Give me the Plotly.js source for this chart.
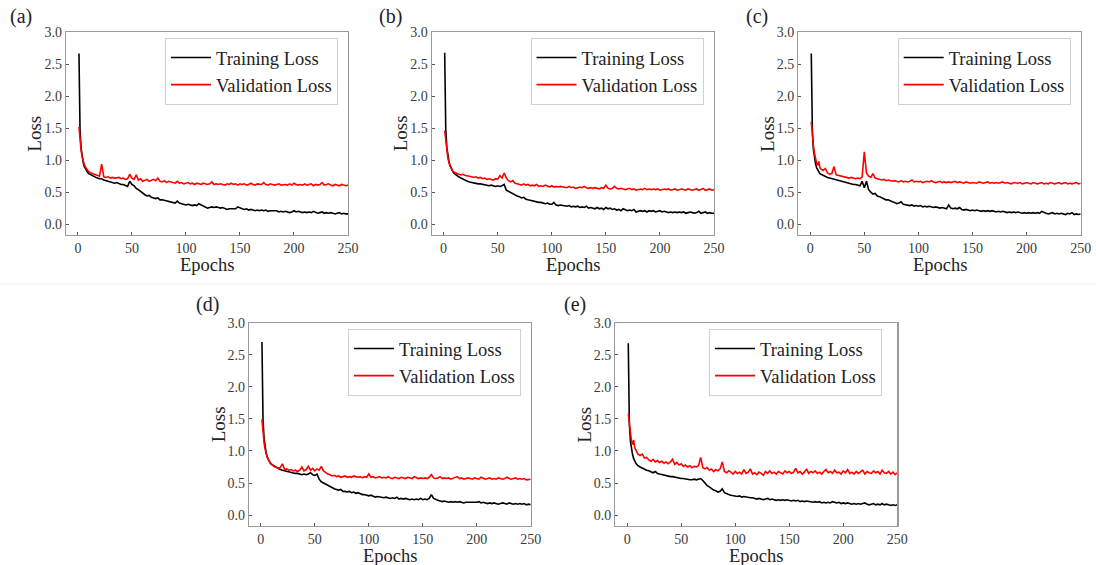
<!DOCTYPE html>
<html>
<head>
<meta charset="utf-8">
<script src="https://cdn.plot.ly/plotly-3.0.1.min.js"></script>
<style>html,body{margin:0;padding:0;background:#fff;}#chart{width:1096px;height:565px;}</style>
</head>
<body>
<div id="chart"></div>
<script>
// Epoch positions of the plotted samples
const epochs = [1,2,3,4,5,6,7,8,9,10,
12,14,16,18,20,22,24,26,28,30,
32,34,36,38,40,42,44,46,48,50,
52,54,56,58,60,62,64,66,68,70,
72,74,76,78,80,82,84,86,88,90,
92,94,96,98,100,102,104,106,108,110,
112,114,116,118,120,122,124,126,128,130,
132,134,136,138,140,142,144,146,148,150,
152,154,156,158,160,162,164,166,168,170,
172,174,176,178,180,182,184,186,188,190,
192,194,196,198,200,202,204,206,208,210,
212,214,216,218,220,222,224,226,228,230,
232,234,236,238,240,242,244,246,248,250];

const panelLabels = ["(a)", "(b)", "(c)", "(d)", "(e)"];
const seriesNames = ["Training Loss", "Validation Loss"];
const xTicks = [0, 50, 100, 150, 200, 250];
const yTicks = [0.0, 0.5, 1.0, 1.5, 2.0, 2.5, 3.0];

// (a)
const trainA = [2.67,1.45,1.18,1.04,0.96,0.90,0.86,0.83,0.81,0.79,
0.77,0.75,0.74,0.72,0.71,0.71,0.69,0.68,0.67,0.66,
0.66,0.64,0.65,0.63,0.62,0.62,0.60,0.59,0.67,0.62,
0.60,0.56,0.54,0.51,0.48,0.46,0.44,0.45,0.42,0.41,
0.40,0.41,0.38,0.38,0.37,0.36,0.35,0.35,0.34,0.33,
0.36,0.33,0.32,0.31,0.30,0.31,0.30,0.29,0.30,0.29,
0.32,0.30,0.28,0.27,0.25,0.26,0.27,0.26,0.27,0.26,
0.25,0.26,0.24,0.23,0.24,0.24,0.25,0.24,0.27,0.25,
0.24,0.23,0.24,0.22,0.23,0.22,0.21,0.22,0.21,0.22,
0.21,0.22,0.20,0.21,0.21,0.20,0.21,0.19,0.20,0.19,
0.20,0.19,0.18,0.19,0.21,0.19,0.20,0.19,0.18,0.19,
0.18,0.19,0.18,0.20,0.18,0.17,0.18,0.19,0.17,0.18,
0.17,0.18,0.17,0.16,0.17,0.18,0.16,0.17,0.16,0.16];
const valA = [1.52,1.30,1.15,1.05,0.98,0.93,0.89,0.86,0.84,0.82,
0.80,0.79,0.78,0.76,0.75,0.94,0.74,0.73,0.74,0.72,
0.73,0.72,0.72,0.73,0.71,0.72,0.70,0.71,0.78,0.72,
0.70,0.77,0.69,0.71,0.67,0.69,0.70,0.67,0.68,0.70,
0.68,0.72,0.67,0.66,0.68,0.65,0.67,0.66,0.65,0.64,
0.67,0.64,0.65,0.63,0.64,0.65,0.63,0.64,0.62,0.64,
0.63,0.62,0.64,0.63,0.62,0.63,0.66,0.62,0.63,0.62,
0.63,0.62,0.61,0.63,0.62,0.64,0.62,0.63,0.61,0.63,
0.62,0.63,0.61,0.62,0.64,0.62,0.61,0.63,0.62,0.62,
0.65,0.62,0.61,0.63,0.62,0.61,0.62,0.63,0.61,0.62,
0.62,0.61,0.63,0.61,0.64,0.62,0.61,0.62,0.61,0.63,
0.61,0.62,0.63,0.60,0.62,0.61,0.62,0.65,0.61,0.62,
0.63,0.61,0.60,0.62,0.61,0.60,0.62,0.61,0.60,0.61];

// (b)
const trainB = [2.68,1.48,1.20,1.05,0.97,0.91,0.87,0.84,0.81,0.79,
0.76,0.74,0.72,0.70,0.69,0.67,0.66,0.65,0.64,0.64,
0.63,0.63,0.62,0.61,0.61,0.60,0.61,0.60,0.59,0.60,
0.59,0.60,0.62,0.53,0.51,0.49,0.47,0.45,0.44,0.43,
0.41,0.42,0.39,0.38,0.37,0.37,0.36,0.35,0.34,0.34,
0.33,0.32,0.33,0.31,0.31,0.34,0.30,0.29,0.30,0.29,
0.29,0.28,0.29,0.27,0.28,0.27,0.28,0.26,0.27,0.26,
0.28,0.25,0.26,0.25,0.24,0.26,0.24,0.25,0.23,0.26,
0.24,0.25,0.23,0.24,0.22,0.23,0.21,0.24,0.22,0.21,
0.22,0.21,0.23,0.19,0.20,0.21,0.20,0.21,0.19,0.21,
0.20,0.21,0.19,0.20,0.21,0.19,0.20,0.19,0.18,0.19,
0.18,0.19,0.18,0.19,0.18,0.19,0.17,0.18,0.19,0.18,
0.17,0.18,0.20,0.17,0.18,0.19,0.17,0.18,0.17,0.17];
const valB = [1.46,1.28,1.13,1.03,0.96,0.91,0.87,0.84,0.82,0.81,
0.79,0.78,0.77,0.78,0.76,0.76,0.75,0.74,0.73,0.74,
0.72,0.73,0.71,0.72,0.70,0.71,0.70,0.69,0.71,0.70,
0.76,0.72,0.80,0.72,0.68,0.66,0.68,0.64,0.63,0.62,
0.61,0.63,0.61,0.62,0.60,0.61,0.60,0.62,0.59,0.60,
0.59,0.61,0.59,0.58,0.60,0.58,0.59,0.58,0.59,0.58,
0.58,0.57,0.59,0.57,0.58,0.56,0.57,0.58,0.57,0.59,
0.57,0.56,0.57,0.56,0.57,0.56,0.55,0.57,0.56,0.61,
0.56,0.55,0.56,0.59,0.56,0.55,0.56,0.55,0.54,0.55,
0.56,0.54,0.55,0.53,0.54,0.55,0.54,0.56,0.54,0.55,
0.54,0.55,0.54,0.55,0.53,0.54,0.55,0.54,0.55,0.53,
0.54,0.55,0.53,0.54,0.55,0.54,0.53,0.55,0.54,0.53,
0.54,0.55,0.53,0.54,0.56,0.53,0.54,0.55,0.53,0.54];

// (c)
const trainC = [2.67,1.45,1.16,1.02,0.94,0.88,0.84,0.81,0.79,0.78,
0.76,0.74,0.73,0.72,0.71,0.70,0.69,0.68,0.67,0.66,
0.66,0.65,0.64,0.63,0.62,0.62,0.61,0.60,0.67,0.57,
0.67,0.54,0.50,0.47,0.48,0.44,0.43,0.41,0.40,0.38,
0.38,0.36,0.35,0.34,0.32,0.33,0.35,0.31,0.30,0.29,
0.29,0.30,0.28,0.29,0.28,0.29,0.27,0.28,0.27,0.28,
0.27,0.26,0.27,0.26,0.25,0.26,0.25,0.24,0.30,0.25,
0.24,0.25,0.24,0.26,0.23,0.22,0.23,0.22,0.21,0.22,
0.21,0.22,0.21,0.20,0.21,0.20,0.21,0.20,0.21,0.20,
0.19,0.20,0.19,0.20,0.19,0.18,0.19,0.18,0.19,0.18,
0.19,0.18,0.17,0.18,0.17,0.18,0.17,0.18,0.17,0.18,
0.17,0.20,0.18,0.17,0.16,0.17,0.18,0.16,0.17,0.16,
0.17,0.16,0.15,0.17,0.16,0.18,0.15,0.16,0.15,0.16];
const valC = [1.60,1.38,1.22,1.10,1.02,0.95,0.92,0.98,0.88,0.86,
0.84,0.87,0.80,0.78,0.79,0.90,0.77,0.76,0.75,0.74,
0.74,0.73,0.72,0.73,0.72,0.71,0.72,0.71,0.74,1.13,
0.80,0.75,0.73,0.79,0.72,0.71,0.70,0.69,0.70,0.68,
0.69,0.68,0.67,0.68,0.67,0.66,0.68,0.66,0.67,0.66,
0.67,0.69,0.66,0.67,0.66,0.67,0.65,0.66,0.67,0.66,
0.68,0.66,0.65,0.66,0.67,0.65,0.66,0.65,0.66,0.65,
0.66,0.67,0.65,0.66,0.65,0.64,0.66,0.65,0.64,0.65,
0.65,0.64,0.66,0.65,0.64,0.65,0.66,0.64,0.65,0.64,
0.65,0.64,0.65,0.66,0.64,0.65,0.64,0.63,0.65,0.64,
0.64,0.65,0.63,0.64,0.65,0.64,0.63,0.65,0.64,0.63,
0.64,0.65,0.63,0.64,0.63,0.65,0.64,0.63,0.64,0.65,
0.63,0.64,0.65,0.63,0.64,0.63,0.64,0.65,0.63,0.64];

// (d)
const trainD = [2.70,1.48,1.19,1.05,0.96,0.90,0.86,0.83,0.80,0.79,
0.77,0.74,0.73,0.71,0.70,0.69,0.68,0.67,0.66,0.66,
0.65,0.65,0.64,0.63,0.64,0.63,0.64,0.66,0.63,0.62,
0.64,0.56,0.52,0.50,0.48,0.46,0.44,0.43,0.41,0.40,
0.39,0.40,0.37,0.37,0.36,0.37,0.35,0.36,0.34,0.35,
0.33,0.32,0.32,0.31,0.30,0.31,0.29,0.28,0.29,0.28,
0.28,0.27,0.28,0.27,0.26,0.27,0.26,0.28,0.25,0.26,
0.25,0.26,0.25,0.24,0.25,0.24,0.25,0.24,0.26,0.24,
0.25,0.24,0.26,0.32,0.26,0.24,0.23,0.22,0.21,0.22,
0.21,0.20,0.21,0.20,0.21,0.20,0.21,0.20,0.19,0.20,
0.20,0.19,0.20,0.19,0.20,0.21,0.19,0.20,0.19,0.18,
0.19,0.18,0.19,0.18,0.17,0.18,0.19,0.18,0.17,0.19,
0.18,0.17,0.18,0.17,0.18,0.17,0.18,0.16,0.17,0.16];
const valD = [1.49,1.27,1.12,1.02,0.95,0.90,0.86,0.83,0.81,0.79,
0.76,0.75,0.73,0.74,0.80,0.71,0.72,0.70,0.71,0.69,
0.70,0.68,0.70,0.75,0.69,0.71,0.76,0.70,0.73,0.69,
0.72,0.70,0.76,0.69,0.66,0.64,0.63,0.61,0.62,0.60,
0.61,0.59,0.60,0.61,0.59,0.60,0.59,0.61,0.60,0.59,
0.60,0.58,0.60,0.59,0.64,0.59,0.60,0.58,0.59,0.60,
0.58,0.59,0.58,0.60,0.58,0.57,0.59,0.58,0.57,0.59,
0.58,0.57,0.59,0.58,0.57,0.60,0.58,0.57,0.58,0.57,
0.58,0.57,0.59,0.63,0.58,0.57,0.58,0.60,0.57,0.58,
0.57,0.58,0.56,0.57,0.58,0.60,0.57,0.58,0.56,0.57,
0.58,0.57,0.56,0.58,0.57,0.56,0.59,0.57,0.56,0.57,
0.58,0.56,0.57,0.56,0.58,0.57,0.56,0.57,0.59,0.57,
0.56,0.57,0.58,0.56,0.57,0.56,0.57,0.55,0.56,0.56];

// (e)
const trainE = [2.68,1.42,1.15,1.02,0.94,0.88,0.84,0.81,0.79,0.77,
0.75,0.73,0.72,0.70,0.69,0.67,0.66,0.68,0.65,0.64,
0.63,0.62,0.62,0.61,0.60,0.60,0.59,0.58,0.58,0.57,
0.57,0.56,0.56,0.55,0.55,0.56,0.55,0.56,0.57,0.54,
0.49,0.46,0.44,0.41,0.39,0.38,0.36,0.37,0.41,0.35,
0.33,0.32,0.31,0.30,0.30,0.29,0.30,0.28,0.29,0.28,
0.28,0.27,0.27,0.26,0.25,0.26,0.25,0.24,0.25,0.26,
0.24,0.25,0.24,0.23,0.24,0.23,0.24,0.23,0.24,0.23,
0.22,0.23,0.22,0.23,0.21,0.22,0.21,0.22,0.21,0.21,
0.20,0.21,0.20,0.21,0.19,0.20,0.19,0.20,0.19,0.21,
0.20,0.19,0.20,0.18,0.19,0.18,0.19,0.18,0.17,0.18,
0.17,0.18,0.17,0.18,0.19,0.17,0.16,0.17,0.18,0.16,
0.17,0.16,0.18,0.16,0.17,0.16,0.15,0.16,0.15,0.16];
const valE = [1.58,1.40,1.25,1.15,1.10,1.17,1.05,1.01,0.98,0.95,
0.93,0.95,0.89,0.90,0.86,0.84,0.87,0.83,0.85,0.82,
0.84,0.81,0.83,0.80,0.83,0.87,0.79,0.82,0.78,0.80,
0.76,0.78,0.75,0.77,0.74,0.76,0.75,0.77,0.90,0.74,
0.72,0.74,0.70,0.72,0.68,0.71,0.69,0.72,0.83,0.68,
0.66,0.69,0.67,0.64,0.68,0.65,0.67,0.64,0.71,0.65,
0.67,0.72,0.64,0.66,0.63,0.67,0.65,0.62,0.68,0.65,
0.69,0.65,0.67,0.64,0.68,0.66,0.64,0.69,0.66,0.68,
0.65,0.67,0.73,0.66,0.68,0.64,0.67,0.72,0.65,0.68,
0.66,0.69,0.65,0.67,0.64,0.68,0.71,0.66,0.68,0.65,
0.70,0.66,0.67,0.64,0.69,0.66,0.71,0.65,0.67,0.64,
0.68,0.65,0.67,0.70,0.64,0.68,0.66,0.65,0.69,0.66,
0.68,0.64,0.70,0.66,0.65,0.68,0.64,0.67,0.63,0.66];

const trainSeries = [trainA, trainB, trainC, trainD, trainE];
const valSeries = [valA, valB, valC, valD, valE];

// Layout geometry (pixels in a 1096x565 canvas)
const W = 1096, H = 565;
const boxes = [
  {l: 66, r: 348, t: 32.3, b: 235, legR: 338, legT: 38, lab: [8, 16]},
  {l: 431.7, r: 714, t: 32.3, b: 235, legR: 703.5, legT: 38, lab: [377, 16]},
  {l: 798.3, r: 1080.7, t: 32.3, b: 235, legR: 1070.7, legT: 38, lab: [744, 16]},
  {l: 249, r: 530.7, t: 322.7, b: 526, legR: 521, legT: 329, lab: [194, 304]},
  {l: 615.3, r: 897.3, t: 322.7, b: 526, legR: 882, legT: 329, lab: [562, 304]}
];

const serif = "'Liberation Serif', 'Times New Roman', Times, serif";
const frameColor = "#9a9a9a";
const data = [];
const layout = {
  width: W, height: H,
  margin: {l: 0, r: 0, t: 0, b: 0},
  paper_bgcolor: "#ffffff",
  plot_bgcolor: "#ffffff",
  font: {family: serif, color: "#333333"},
  showlegend: true,
  annotations: [],
  shapes: [
    {type: "line", xref: "paper", yref: "paper", x0: 0, x1: 1, y0: 1 - 284/H, y1: 1 - 284/H,
     line: {color: "#efefef", width: 1}}
  ]
};

boxes.forEach((bx, i) => {
  const n = i + 1;
  const xa = n === 1 ? "x" : "x" + n;
  const ya = n === 1 ? "y" : "y" + n;
  const leg = n === 1 ? "legend" : "legend" + n;
  data.push({
    x: epochs, y: trainSeries[i], xaxis: xa, yaxis: ya, type: "scatter", mode: "lines",
    name: seriesNames[0], legend: leg, line: {color: "#000000", width: 1.6}
  });
  data.push({
    x: epochs, y: valSeries[i], xaxis: xa, yaxis: ya, type: "scatter", mode: "lines",
    name: seriesNames[1], legend: leg, line: {color: "#ff0000", width: 1.6}
  });
  const axBase = {
    showgrid: false, zeroline: false, showline: true, mirror: true,
    linecolor: frameColor, linewidth: 1.2,
    ticks: "inside", ticklen: 3, tickcolor: "#555555", tickwidth: 1,
    tickfont: {family: serif, size: 14, color: "#3a3a3a"}
  };
  layout["xaxis" + (n === 1 ? "" : n)] = Object.assign({}, axBase, {
    domain: [bx.l / W, bx.r / W], range: [-11, 250], anchor: ya,
    tickvals: xTicks, ticktext: xTicks.map(String)
  });
  layout["yaxis" + (n === 1 ? "" : n)] = Object.assign({}, axBase, {
    domain: [1 - bx.b / H, 1 - bx.t / H], range: [-0.17, 3.0], anchor: xa,
    tickvals: yTicks, ticktext: yTicks.map(v => v.toFixed(1))
  });
  layout[leg] = {
    x: bx.legR / W, y: 1 - bx.legT / H, xanchor: "right", yanchor: "top",
    xref: "paper", yref: "paper",
    bgcolor: "#ffffff", bordercolor: "#d0d0d0", borderwidth: 1,
    font: {family: serif, size: 18.5, color: "#222222"},
    itemwidth: 40
  };
  // axis titles
  layout.annotations.push({
    xref: "paper", yref: "paper", x: ((bx.l + bx.r) / 2) / W, y: 1 - (bx.b + 30) / H,
    text: "Epochs", showarrow: false, xanchor: "center", yanchor: "middle",
    font: {family: serif, size: 18.5, color: "#222222"}
  });
  layout.annotations.push({
    xref: "paper", yref: "paper", x: (bx.l - 31) / W, y: 1 - ((bx.t + bx.b) / 2) / H,
    text: "Loss", showarrow: false, textangle: -90, xanchor: "center", yanchor: "middle",
    font: {family: serif, size: 19, color: "#222222"}
  });
  layout.annotations.push({
    xref: "paper", yref: "paper", x: bx.lab[0] / W, y: 1 - bx.lab[1] / H,
    text: panelLabels[i], showarrow: false, xanchor: "left", yanchor: "middle",
    font: {family: serif, size: 20, color: "#222222"}
  });
});

Plotly.newPlot("chart", data, layout, {displayModeBar: false, staticPlot: true});
</script>
</body>
</html>
